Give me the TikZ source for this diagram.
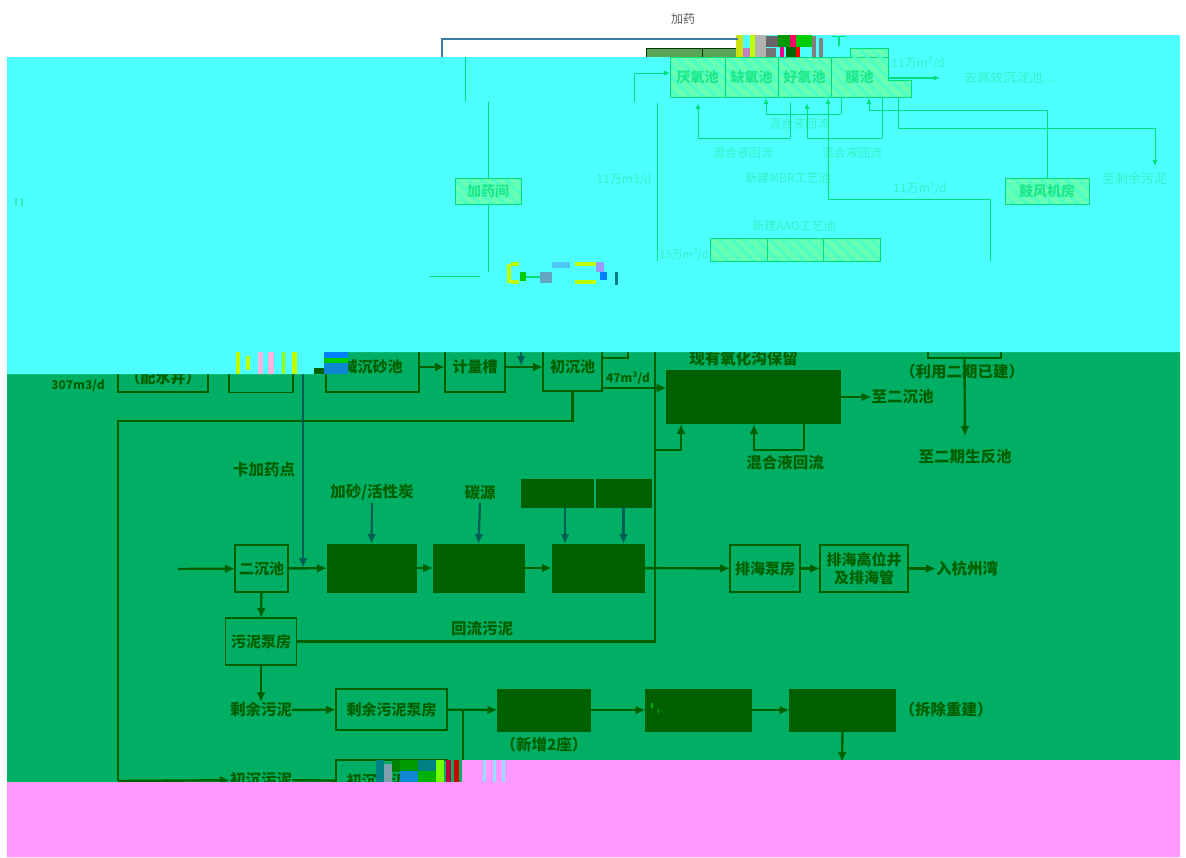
\documentclass[tikz,border=0pt]{standalone}
\usepackage{xcolor}
\usepackage{fontspec}
\newfontfamily\cjk{Noto Sans CJK SC}
\usetikzlibrary{positioning,arrows.meta,patterns.meta}
\definecolor{bandgreen}{HTML}{00AF64}
\definecolor{bandcyan}{HTML}{4DFFFF}
\definecolor{bandpink}{HTML}{FF99FF}
\definecolor{inkgreen}{HTML}{006000}
\definecolor{inkteal}{HTML}{005F55}
\definecolor{palefill}{HTML}{66FFB3}
\definecolor{palehatch}{HTML}{4DFFC4}
\definecolor{paleline}{HTML}{00E07A}
\definecolor{palelabel}{HTML}{38F0C4}
\definecolor{paletext}{HTML}{1EE88C}
\definecolor{topline}{HTML}{3F7FA6}
\begin{document}
\begin{tikzpicture}[
    x=1pt, y=-1pt,
    node distance=20pt and 20pt,
    box/.style={draw=inkgreen, line width=1.8pt, align=center, inner sep=0pt, outer sep=0pt, text=inkgreen, font=\cjk\bfseries\fontsize{15}{18}\selectfont},
    solid/.style={fill=inkgreen, draw=inkgreen, inner sep=0pt, outer sep=0pt},
    label/.style={text=inkgreen, inner sep=0pt, font=\cjk\bfseries\fontsize{15.5}{18}\selectfont},
    rate/.style={text=inkgreen, inner sep=0pt, font=\cjk\bfseries\itshape\fontsize{12}{14}\selectfont},
    arrow/.style={-{Latex[length=10pt,width=9pt]}, line width=2.4pt, draw=inkgreen},
    flow/.style={line width=2.4pt, draw=inkgreen},
    dose/.style={-{Latex[length=10pt,width=9pt]}, line width=2.2pt, draw=inkteal},
    palebox/.style={draw=paleline, line width=.8pt, inner sep=0pt, outer sep=0pt, preaction={fill=palefill}, pattern={Lines[angle=-45,distance=9pt,line width=3pt]}, pattern color=palehatch, text=paletext, font=\cjk\bfseries\fontsize{14}{17}\selectfont},
    palelabel/.style={text=palelabel, inner sep=0pt, font=\cjk\fontsize{12}{14}\selectfont},
    palearrow/.style={-{Latex[length=6pt,width=5pt]}, line width=1pt, draw=paleline},
    paleflow/.style={line width=1pt, draw=paleline}
  ]
    \useasboundingbox (0,0) rectangle (1186,857);
    \fill[bandgreen] (7,374) -- (325,374) -- (325,352) -- (1180,352) -- (1180,760) -- (462,760) -- (462,782) -- (7,782) -- cycle;

    % upper row, cut off by the cyan band
    \node[box, minimum width=90pt, minimum height=28pt] (well) at (163,378) {（配水井）};
    \node[box, minimum width=64pt, minimum height=47pt] (screen) at (261,369) {};
    \node[box, minimum width=93pt, minimum height=50pt] (grit) at (372.5,367) {减沉砂池};
    \node[box, minimum width=60pt, minimum height=50pt, right=26pt of grit] (meter) {计量槽};
    \node[box, minimum width=59pt, minimum height=48pt, right=38pt of meter] (first) {初沉池};
    \node[rate] (ratein) at (78,386) {307m3/d};
    \node[rate] (rate47) at (628,378) {47m³/d};

    \coordinate (stub) at (628,358);
    \coordinate (stubtop) at (628,340);
    \coordinate (dosein) at (521,340);
    \coordinate (dosemeter) at (521,366);
    \coordinate (firstout) at (602,388);
    \coordinate (leftbend) at (118,421);
    \coordinate (primbend) at (118,781);
    \coordinate (backtop) at (655,340);
    \coordinate (branch) at (655,450);
    \coordinate (oxin) at (681,424);
    \coordinate (oxloop) at (754,424);
    \coordinate (oxback) at (804,424);
    \coordinate (oxlow) at (804,450);
    \coordinate (midose) at (303,340);
    \coordinate (midoseend) at (303,568);
    \coordinate (feed) at (178,569);

    \draw[arrow] (grit) -- (meter);
    \draw[arrow] (meter) -- (first);
    \draw[dose] (dosein) -- (dosemeter);
    \draw[flow] (first.east |- stub) -- (stub) -- (stubtop);
    \draw[flow] (first.south) |- (leftbend) -- (primbend);

    % oxidation ditch
    \node[solid, minimum width=174pt, minimum height=53pt] (ditch) at (753.5,397) {};
    \node[label, above=4pt of ditch, xshift=-10pt] (ditchname) {现有氧化沟保留};
    \node[label, right=31pt of ditch] (tosec) {至二沉池};
    \node[label] (ditchback) at (785,463) {混合液回流};
    \node[box, minimum width=73pt, minimum height=28pt] (blower) at (964.5,344) {};
    \node[label] (reuse) at (962,372) {（利用二期已建）};
    \node[label] (tobio) at (965,457) {至二期生反池};
    \coordinate (bioend) at (965,436);

    \draw[arrow] (firstout) -- (ditch.west |- firstout);
    \draw[arrow] (ditch.east) -- (tosec.west);
    \draw[flow] (oxback) -- (oxlow);
    \draw[arrow] (oxlow) -| (oxloop);
    \draw[arrow] (branch) -| (oxin);
    \draw[arrow] (blower.south) -- (bioend);

    % secondary row
    \node[box, minimum width=53pt, minimum height=47pt] (sec) at (261.5,568.5) {二沉池};
    \node[solid, minimum width=89pt, minimum height=48pt] (sand) at (371.5,568) {};
    \node[solid, minimum width=91pt, minimum height=48pt, right=17pt of sand] (carbon) {};
    \node[solid, minimum width=92pt, minimum height=48pt, right=28pt of carbon] (disinf) {};
    \node[box, minimum width=70pt, minimum height=47pt] (outpump) at (765,568.5) {排海泵房};
    \node[box, minimum width=88pt, minimum height=47pt, right=20pt of outpump] (outwell) {排海高位井\\及排海管};
    \node[label, right=28pt of outwell] (bay) {入杭州湾};
    \node[label] (dosename) at (264,470) {卡加药点};
    \node[label] (sandname) at (372,492) {加砂/活性炭};
    \node[label] (carbonname) at (480,493) {碳源};
    \node[solid, minimum width=72pt, minimum height=28pt] (dosea) at (557,493) {};
    \node[solid, minimum width=55pt, minimum height=28pt, right=3pt of dosea] (doseb) {};
    \coordinate (sandin) at (372,503);
    \coordinate (carbonin) at (480,503);
    \coordinate (doseaout) at (565,507);
    \coordinate (doseaend) at (565,544);

    \draw[arrow] (feed) -- (sec);
    \draw[arrow] (sec) -- (sand);
    \draw[arrow] (sand) -- (carbon);
    \draw[arrow] (carbon) -- (disinf);
    \draw[arrow] (disinf) -- (outpump);
    \draw[arrow] (outpump) -- (outwell);
    \draw[arrow] (outwell) -- (bay);
    \draw[dose] (midose) -- (midoseend);
    \draw[dose] (sandin) -- (sand.north);
    \draw[dose] (carbonin) -- (carbon.north);
    \draw[dose] (doseaout) -- (doseaend);
    \draw[dose] (doseb.south) -- (doseb.south |- disinf.north);

    % sludge lines
    \node[box, minimum width=71pt, minimum height=47pt] (slpump) at (261,641.5) {污泥泵房};
    \node[label] (backname) at (482,629) {回流污泥};
    \node[label] (exname) at (261,710) {剩余污泥};
    \node[box, minimum width=111pt, minimum height=41pt] (expump) at (391.5,709.5) {剩余污泥泵房};
    \node[solid, minimum width=93pt, minimum height=42pt] (thick) at (544,710) {};
    \node[label, below=6pt of thick] (thickname) {（新增2座）};
    \node[solid, minimum width=106pt, minimum height=42pt, right=55pt of thick] (digest) {};
    \node[solid, minimum width=106pt, minimum height=42pt, right=38pt of digest] (dewater) {};
    \node[label, right=4pt of dewater] (rebuild) {（拆除重建）};
    \node[label] (primname) at (261,780) {初沉污泥};
    \node[box, minimum width=111pt, minimum height=42pt] (prpump) at (391.5,781) {初沉污泥泵房};
    \coordinate (exdown) at (463,709);
    \coordinate (exlow) at (463,765);
    \coordinate (dewlow) at (842,762);

    \draw[arrow] (sec) -- (slpump);
    \draw[flow] (slpump.east) -| (backtop);
    \draw[arrow] (slpump) -- (exname);
    \draw[arrow] (exname) -- (expump);
    \draw[arrow] (expump) -- (thick);
    \draw[arrow] (thick) -- (digest);
    \draw[arrow] (digest) -- (dewater);
    \draw[flow] (exdown) -- (exlow);
    \draw[arrow] (dewater.south) -- (dewlow);
    \draw[arrow] (primbend) -- (primname);
    \draw[flow] (primname) -- (prpump);
    \fill[green!70!black] (651,703) rectangle (653,708) (658,709) rectangle (659,713);

    % torn bands
    \fill[bandpink] (7,782) -- (462,782) -- (462,760) -- (1180,760) -- (1180,857) -- (7,857) -- cycle;
    \fill[bandcyan] (7,57) -- (738,57) -- (738,35) -- (1180,35) -- (1180,352) -- (325,352) -- (325,374) -- (7,374) -- cycle;
    \foreach \xa/\xb/\col in {483/486/cyan!40,493/496/cyan!40,502/505/cyan!40}
      \fill[\col] (\xa,760) rectangle (\xb,782);
    \foreach \xa/\ya/\xb/\yb/\col in {
        376/760/384/782/teal, 384/764/392/782/cyan!30!gray, 392/760/400/772/green!50!black,
        400/760/418/771/green!60!black, 400/771/418/782/cyan!70!blue, 418/760/436/771/teal,
        418/771/436/782/green!70!black, 436/760/444/782/lime!60!green, 446/760/451/782/purple,
        454/760/459/782/red!80!black,
        236/352/240/374/lime, 246/356/250/370/lime, 258/352/263/374/white!70!magenta,
        268/352/274/374/white!70!magenta, 282/352/285/374/lime!80!green, 292/352/297/374/lime,
        314/368/324/374/inkgreen, 324/352/348/358/blue!50!cyan, 324/358/348/363/green!80!black,
        324/363/348/374/cyan!70!blue,
        507/264/511/283/lime, 511/262/519/266/lime, 511/280/519/284/lime, 520/272/526/281/green!80!black,
        526/276/545/278/paleline, 540/272/552/283/gray!50!cyan, 575/262/600/266/lime,
        575/280/596/284/lime, 596/262/604/272/white!60!blue, 600/272/607/280/blue!50!cyan,
        615/272/618/285/teal, 552/262/570/268/cyan!70!white,
        736/35/743/57/yellow!80!green, 743/48/750/57/violet!50!white, 750/35/755/57/lime,
        755/35/766/57/gray!60, 766/36/778/47/black!60, 766/48/776/57/black!55,
        778/35/790/47/green!60!black, 790/35/796/47/red!60!magenta, 796/35/812/47/green!80!black,
        780/47/784/57/magenta, 786/47/796/57/green!40!black, 796/47/800/57/red,
        812/36/816/57/black!50, 819/38/823/57/black!50, 838/36/840/46/paleline, 832/36/846/37/paleline,
        15/198/17/206/paletext!60!bandcyan, 21/198/23/206/paletext!60!bandcyan}
      \fill[\col] (\xa,\ya) rectangle (\xb,\yb);

    % new process tanks
    \node[text=black!65, inner sep=0pt, font=\cjk\fontsize{12}{14}\selectfont] (dosetop) at (683,19) {加药};
    \coordinate (topleft) at (442,57);
    \coordinate (topright) at (738,39);
    \draw[line width=2pt, draw=topline] (topright) -| (topleft);
    \fill[green!30!gray] (646,48) rectangle (736,57);
    \draw[line width=1pt, draw=green!20!black] (646,57) |- (736,48) (702,48) -- (702,57);

    \node[palebox, minimum width=55pt, minimum height=40pt] (ana) at (697.5,77) {厌氧池};
    \node[palebox, minimum width=53pt, minimum height=40pt, right=0pt of ana] (anox) {缺氧池};
    \node[palebox, minimum width=53pt, minimum height=40pt, right=0pt of anox] (aero) {好氧池};
    \node[palebox, minimum width=57pt, minimum height=40pt, right=0pt of aero] (mem) {膜池};
    \path[palebox, draw=none] (850,48) rectangle (888,57);
    \path[palebox, draw=none] (888,80) rectangle (911,97);
    \draw[paleflow] (850,57) |- (888,48) -- (888,80) -- (911,80) -- (911,97) -- (888,97);

    \node[palelabel] (rateout) at (918,63) {11万m³/d};
    \node[palelabel, font=\cjk\fontsize{13}{15}\selectfont] (outname) at (1010,78) {去高效沉淀池…};
    \node[palelabel] (backc) at (799,124) {混合液回流};
    \node[palelabel] (backa) at (743,153) {混合液回流};
    \node[palelabel] (backb) at (852,153) {混合液回流};
    \node[palelabel] (ratemem) at (624,180) {11万m3/d};
    \node[palelabel] (mbrname) at (788,178) {新建MBR工艺池};
    \node[palelabel] (rateair) at (920,188) {11万m³/d};
    \node[palelabel] (aaoname) at (794,226) {新建AAO工艺池};
    \node[palelabel, font=\cjk\fontsize{11}{13}\selectfont] (rateaao) at (684,255) {15万m³/d};
    \node[palebox, minimum width=66pt, minimum height=26pt] (dosing) at (488,191) {加药间};
    \node[palebox, minimum width=84pt, minimum height=26pt] (air) at (1047,191) {鼓风机房};
    \node[palelabel, font=\cjk\fontsize{13}{15}\selectfont, anchor=west] (sludge) at (1102,178) {至剩余污泥};
    \node[palebox, minimum width=57pt, minimum height=23pt] (aaoa) at (738.5,250) {};
    \node[palebox, minimum width=56pt, minimum height=23pt, right=0pt of aaoa] (aaob) {};
    \node[palebox, minimum width=57pt, minimum height=23pt, right=0pt of aaob] (aaoc) {};

    \coordinate (inlow) at (634,102);
    \coordinate (inmid) at (634,73);
    \coordinate (outend) at (940,78);
    \coordinate (outstart) at (888,78);
    \coordinate (feedtop) at (657,103);
    \coordinate (feedlow) at (657,261);
    \coordinate (dosehigh) at (465,57);
    \coordinate (doselow) at (465,102);
    \coordinate (dosedown) at (488,272);
    \coordinate (doseleft) at (430,276);
    \coordinate (doseright) at (480,276);
    \coordinate (adown) at (790,102);
    \coordinate (alow) at (790,138);
    \coordinate (atop) at (698,103);
    \coordinate (bdown) at (882,97);
    \coordinate (blow) at (882,138);
    \coordinate (btop) at (807,103);
    \coordinate (cdown) at (841,97);
    \coordinate (clow) at (841,114);
    \coordinate (ctop) at (766,98);
    \coordinate (memfeed) at (828,98);
    \coordinate (memlow) at (828,199);
    \coordinate (memright) at (990,261);
    \coordinate (airtop) at (869,98);
    \coordinate (airturn) at (869,110);
    \coordinate (sldown) at (898,97);
    \coordinate (slmid) at (1155,128);
    \coordinate (slend) at (1155,166);

    \draw[palearrow] (inlow) |- (ana.west |- inmid);
    \draw[palearrow, line width=1.6pt] (outstart) -- (outend);
    \draw[paleflow] (feedtop) -- (feedlow);
    \draw[paleflow] (dosehigh) -- (doselow);
    \draw[paleflow] (dosing.north |- doselow) -- (dosing);
    \draw[paleflow] (dosing) -- (dosedown);
    \draw[paleflow] (doseleft) -- (doseright);
    \draw[paleflow] (adown) -- (alow);
    \draw[palearrow] (alow) -| (atop);
    \draw[paleflow] (bdown) -- (blow);
    \draw[palearrow] (blow) -| (btop);
    \draw[paleflow] (cdown) -- (clow);
    \draw[palearrow] (clow) -| (ctop);
    \draw[palearrow] (memright) |- (memlow) -- (memfeed);
    \draw[palearrow] (air.north) |- (airturn) -- (airtop);
    \draw[paleflow] (sldown) |- (slmid);
    \draw[palearrow] (slmid) -- (slend);
  \end{tikzpicture}
\end{document}
